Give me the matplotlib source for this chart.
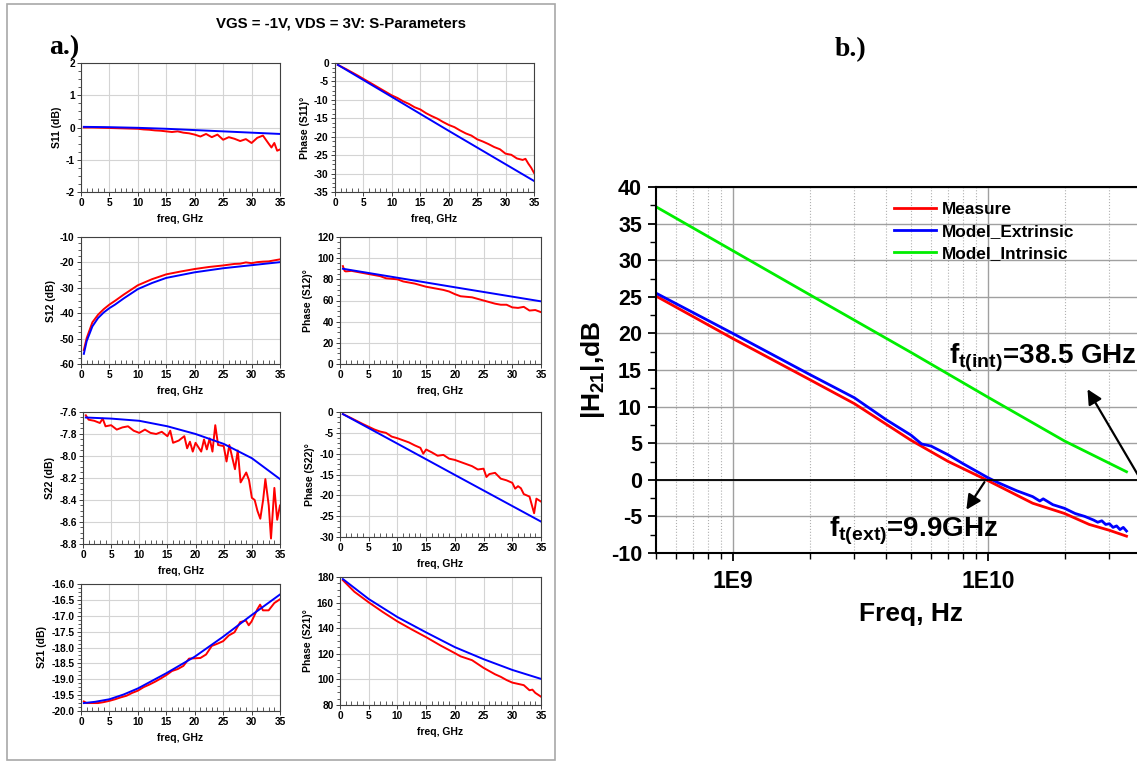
import numpy as np
import matplotlib.pyplot as plt
from matplotlib.patches import Rectangle
from matplotlib.ticker import FormatStrFormatter

plt.rcParams['font.family'] = ['Liberation Sans', 'DejaVu Sans']
plt.rcParams['font.weight'] = 'bold'
plt.rcParams['axes.labelweight'] = 'bold'
plt.rcParams['axes.unicode_minus'] = False
plt.rcParams['mathtext.fontset'] = 'custom'
plt.rcParams['mathtext.rm'] = 'Liberation Sans:bold'
plt.rcParams['mathtext.it'] = 'Liberation Sans:bold'
plt.rcParams['mathtext.bf'] = 'Liberation Sans:bold'

# ---- a.) S-parameters, freq in GHz ----
mod_f = [0.5, 5, 10, 15, 20, 25, 30, 35]

s11_f = [0.5, 2, 4, 6, 8, 10, 11, 12, 13, 14, 15, 16, 17, 18, 19, 20, 21, 22, 23, 24,
         25, 26, 27, 28, 29, 30, 31, 32, 33, 33.5, 34, 34.5, 35]
s11_meas = [0.0, 0.0, -0.01, -0.02, -0.03, -0.04, -0.06, -0.07, -0.09, -0.1, -0.12, -0.14,
            -0.12, -0.16, -0.18, -0.22, -0.28, -0.2, -0.3, -0.22, -0.38, -0.3, -0.35, -0.42,
            -0.36, -0.48, -0.32, -0.25, -0.5, -0.62, -0.48, -0.72, -0.68]
s11_model = [0.02, 0.01, -0.01, -0.04, -0.08, -0.12, -0.16, -0.2]

p11_f = [0.5, 2, 4, 6, 8, 9, 10, 11, 12, 13, 14, 15, 16, 17, 18, 19, 20, 21, 22, 23, 24,
         25, 26, 27, 28, 29, 30, 31, 32, 33, 33.5, 34, 34.5, 35]
p11_meas = [-0.5, -1.7, -3.4, -5.2, -7.0, -7.9, -8.8, -9.5, -10.4, -11.1, -12.0, -12.6, -13.6,
            -14.4, -15.1, -16.0, -16.8, -17.4, -18.3, -19.1, -19.7, -20.7, -21.3, -22.0, -22.8,
            -23.4, -24.6, -24.9, -25.9, -26.3, -26.0, -27.3, -28.4, -29.8]
p11_model_f = [0.5, 10, 20, 35]
p11_model = [-0.5, -9.2, -18.4, -32.0]

s12_f = [0.5, 1, 2, 3, 4, 5, 6, 7.5, 10, 12.5, 15, 17.5, 20, 22.5, 25, 27, 28, 29, 30, 31,
         32, 33, 34, 35]
s12_meas = [-54.5, -49.8, -43.6, -40.6, -38.4, -36.6, -35.1, -32.7, -29.0, -26.6, -24.7, -23.6,
            -22.6, -21.8, -21.2, -20.6, -20.5, -20.0, -20.3, -19.9, -19.7, -19.6, -19.2, -18.8]
s12_model_f = [0.5, 1, 2, 3, 4, 5, 6, 7.5, 10, 12.5, 15, 20, 25, 30, 35]
s12_model = [-56.0, -51.0, -45.2, -41.9, -39.7, -38.0, -36.6, -34.2, -30.5, -28.1, -26.1,
             -23.9, -22.3, -21.1, -19.9]

p12_f = [0.5, 0.8, 1, 2, 3, 4, 5, 6, 7, 8, 9, 10, 11, 12, 13, 14, 15, 16, 17, 18, 19, 20,
         21, 22, 23, 24, 25, 26, 27, 28, 29, 30, 31, 32, 33, 34, 35]
p12_meas = [92.5, 88, 87.5, 88, 87, 86, 85, 84, 83, 81, 80.5, 80, 78, 77, 76, 74.5, 73, 72,
            71, 70, 68.5, 66, 64, 63.5, 63, 61.5, 60, 58.5, 57, 56, 56, 53.5, 53, 54, 50.5,
            51, 49]
p12_model_f = [0.5, 10, 20, 35]
p12_model = [90.0, 81.5, 72.5, 59.2]

s22_f = [0.5, 1, 2, 3, 3.5, 4, 5, 6, 7, 8, 9, 10, 11, 12, 13, 14, 15, 15.5, 16, 17, 18,
         18.5, 19, 19.5, 20, 21, 21.5, 22, 22.5, 23, 23.5, 24, 25, 25.5, 26, 27, 27.5, 28,
         29, 29.5, 30, 30.5, 31, 31.5, 32, 32.4, 33, 33.4, 34, 34.5, 35]
s22_meas = [-7.63, -7.67, -7.68, -7.70, -7.66, -7.73, -7.72, -7.76, -7.74, -7.73, -7.77,
            -7.79, -7.76, -7.79, -7.80, -7.78, -7.82, -7.77, -7.88, -7.86, -7.82, -7.93,
            -7.87, -7.96, -7.88, -7.96, -7.85, -7.94, -7.84, -7.96, -7.72, -7.90, -7.91,
            -8.05, -7.90, -8.12, -7.95, -8.24, -8.15, -8.22, -8.38, -8.40, -8.50, -8.57,
            -8.40, -8.21, -8.45, -8.75, -8.29, -8.58, -8.45]
s22_model = [-7.65, -7.66, -7.68, -7.73, -7.80, -7.89, -8.02, -8.21]

p22_f = [0.5, 2, 4, 6, 7, 8, 9, 10, 11, 12, 13, 14, 14.5, 15, 16, 17, 18, 19, 20, 21, 22,
         23, 24, 25, 25.5, 26, 27, 28, 29, 30, 30.5, 31, 31.5, 32, 33, 33.8, 34.2, 35]
p22_meas = [-0.5, -1.5, -2.9, -4.2, -4.7, -5.0, -5.9, -6.3, -6.8, -7.3, -8.0, -8.6, -10.0,
            -9.0, -9.7, -10.5, -10.3, -11.2, -11.5, -12.0, -12.5, -13.0, -13.8, -13.6, -15.6,
            -14.9, -14.6, -16.0, -16.4, -17.0, -18.4, -17.8, -18.3, -19.7, -20.3, -24.3,
            -20.8, -21.5]
p22_model_f = [0.5, 10, 20, 35]
p22_model = [-0.5, -7.6, -15.1, -26.3]

s21_f = [0.5, 1, 2, 3, 4, 5, 6, 7, 8, 9, 10, 11, 12, 13, 14, 15, 16, 17, 18, 19, 20, 21,
         22, 23, 24, 25, 26, 27, 28, 29, 29.5, 30, 31, 31.5, 32, 33, 34, 35]
s21_meas = [-19.70, -19.75, -19.75, -19.75, -19.72, -19.68, -19.63, -19.57, -19.52, -19.43,
            -19.36, -19.25, -19.17, -19.08, -18.98, -18.87, -18.74, -18.68, -18.58, -18.35,
            -18.34, -18.33, -18.22, -17.95, -17.88, -17.80, -17.62, -17.52, -17.20, -17.15,
            -17.30, -17.18, -16.80, -16.65, -16.83, -16.83, -16.60, -16.48]
s21_model_f = [0.5, 2.5, 5, 7.5, 10, 15, 20, 25, 30, 35]
s21_model = [-19.75, -19.71, -19.63, -19.48, -19.29, -18.81, -18.29, -17.66, -16.98, -16.33]

p21_f = [0.5, 2.5, 5, 7.5, 10, 12.5, 15, 17.5, 20, 21, 22, 23, 25, 27, 28, 29, 30, 31, 32,
         33, 33.5, 34, 35]
p21_meas = [177.5, 168.5, 160.2, 152.5, 145.3, 139.0, 133.0, 126.5, 120.5, 118.0, 116.5,
            115.0, 109.0, 104.0, 102.0, 99.5, 97.5, 96.5, 95.5, 91.5, 92.0, 89.5, 86.5]
p21_model = [178.4, 162.8, 148.7, 136.7, 125.2, 115.8, 107.4, 100.4]

# ---- b.) |H21| vs frequency (Hz) ----
h21_f = [5e8, 1e9, 2e9, 3e9, 5e9, 7e9, 1e10, 1.5e10, 2e10, 2.5e10, 3e10, 3.5e10]
h21_meas = [25.1, 19.3, 13.7, 10.4, 5.4, 2.5, -0.1, -3.2, -4.6, -6.1, -6.9, -7.7]
h21_ext_f = [5e8, 1e9, 2e9, 3e9, 4e9, 5e9, 5.5e9, 6e9, 7e9, 8e9, 9e9, 1e10, 1.1e10, 1.3e10,
             1.5e10, 1.6e10, 1.65e10, 1.8e10, 2e10, 2.2e10, 2.4e10, 2.6e10, 2.7e10, 2.8e10,
             2.9e10, 3e10, 3.1e10, 3.2e10, 3.3e10, 3.4e10, 3.5e10]
h21_ext = [25.5, 20.0, 14.4, 11.2, 8.2, 6.1, 4.9, 4.6, 3.4, 2.2, 1.2, 0.3, -0.4, -1.5, -2.3,
           -2.9, -2.6, -3.4, -3.9, -4.6, -5.0, -5.5, -5.8, -5.6, -6.1, -6.0, -6.5, -6.3, -6.8,
           -6.5, -7.0]
h21_int_f = [5e8, 1e9, 2e9, 5e9, 1e10, 2e10, 3.5e10]
h21_int = [37.3, 31.3, 25.3, 17.4, 11.3, 5.3, 1.1]

W, H = 1137, 763
fig = plt.figure(figsize=(W / 100, H / 100), dpi=100)


def px_axes(x0, x1, y0, y1):
    return fig.add_axes([x0 / W, 1 - y1 / H, (x1 - x0) / W, (y1 - y0) / H])


def sp_panel(box, fm, ym, fd, yd, ylim, ystep, ylabel, fmt=None):
    ax = px_axes(*box)
    ax.plot(fm, ym, color='#ff0000', lw=1.4)
    ax.plot(fd, yd, color='#0000ff', lw=1.4)
    ax.set_xlim(0, 35)
    ax.set_ylim(ylim)
    ax.set_xticks(np.arange(0, 36, 5))
    ax.set_xticks(np.arange(0, 36, 1), minor=True)
    ax.set_yticks(np.arange(ylim[0], ylim[1] + ystep / 2, ystep))
    ax.set_yticks(np.arange(ylim[0], ylim[1] + ystep / 8, ystep / 4), minor=True)
    if fmt:
        ax.yaxis.set_major_formatter(FormatStrFormatter(fmt))
    ax.grid(True, which='major', color='#d4d4d4', lw=0.8)
    ax.tick_params(which='major', direction='out', length=3, width=0.7, labelsize=7.3,
                   pad=1.5, color='#404040')
    ax.tick_params(axis='x', which='minor', direction='in', length=3, width=0.6,
                   color='#404040')
    ax.tick_params(axis='y', which='minor', direction='out', length=2, width=0.6,
                   color='#404040')
    for lbl in ax.get_xticklabels() + ax.get_yticklabels():
        lbl.set_fontweight('bold')
    for sp in ax.spines.values():
        sp.set_color('#404040')
        sp.set_linewidth(0.8)
    ax.set_xlabel('freq, GHz', fontsize=7.5, labelpad=4)
    ax.set_ylabel(ylabel, fontsize=7.5, labelpad=3)
    return ax


sp_panel((81, 280, 63, 192), s11_f, s11_meas, mod_f, s11_model, (-2, 2), 1, 'S11 (dB)')
sp_panel((335, 534, 63, 192), p11_f, p11_meas, p11_model_f, p11_model, (-35, 0), 5,
         'Phase (S11)°')
sp_panel((81, 280, 237, 364), s12_f, s12_meas, s12_model_f, s12_model, (-60, -10), 10,
         'S12 (dB)')
sp_panel((340, 541, 237, 364), p12_f, p12_meas, p12_model_f, p12_model, (0, 120), 20,
         'Phase (S12)°')
sp_panel((83, 280, 412, 544), s22_f, s22_meas, mod_f, s22_model, (-8.8, -7.6), 0.2,
         'S22 (dB)', '%.1f')
sp_panel((340, 541, 412, 537), p22_f, p22_meas, p22_model_f, p22_model, (-30, 0), 5,
         'Phase (S22)°')
sp_panel((81, 280, 584, 711), s21_f, s21_meas, s21_model_f, s21_model, (-20, -16), 0.5,
         'S21 (dB)', '%.1f')
sp_panel((340, 541, 577, 705), p21_f, p21_meas, mod_f, p21_model, (80, 180), 20,
         'Phase (S21)°')

fig.patches.append(Rectangle((7 / W, 1 - 760 / H), 548 / W, 756 / H, transform=fig.transFigure,
                             fill=False, edgecolor='#a8a8a8', lw=1.2))
fig.text(341 / W, 1 - 24 / H, 'VGS = -1V, VDS = 3V: S-Parameters', ha='center', va='center',
         fontsize=10.8, weight='bold')
fig.text(49 / W, 1 - 48 / H, 'a.)', family='Liberation Serif', weight='bold', fontsize=20,
         va='center')
fig.text(835 / W, 1 - 50 / H, 'b.)', family='Liberation Serif', weight='bold', fontsize=20,
         va='center')

# ---- b.) panel ----
ax = px_axes(656, 1166, 187, 553)
ax.set_xscale('log')
ax.plot(h21_f, h21_meas, color='#ff0000', lw=2, label='Measure')
ax.plot(h21_ext_f, h21_ext, color='#0000ff', lw=2, label='Model_Extrinsic')
ax.plot(h21_int_f, h21_int, color='#00ee00', lw=2, label='Model_Intrinsic')
ax.set_ylim(-10, 40)
ax.set_yticks(np.arange(-10, 41, 5))
ax.set_yticks(np.arange(-10, 40.1, 2.5), minor=True)
ax.set_xticks([1e9, 1e10], ['1E9', '1E10'])
ax.set_xticks([m * d for d in (1e8, 1e9, 1e10) for m in range(2, 10)], minor=True)
ax.tick_params(axis='x', which='minor', labelbottom=False)
ax.set_xlim(5e8, 5e10)
ax.grid(True, which='major', color='#a0a0a0', lw=1)
ax.grid(True, which='minor', axis='x', color='#b0b0b0', lw=0.8, ls=':')
ax.axhline(0, color='black', lw=1.3)
ax.tick_params(which='major', direction='out', length=6, width=1.3)
ax.tick_params(which='minor', direction='out', length=4, width=1)
ax.tick_params(axis='y', labelsize=15.5, pad=4)
ax.tick_params(axis='x', labelsize=16.5, pad=6)
for lbl in ax.get_xticklabels() + ax.get_yticklabels():
    lbl.set_fontweight('bold')
for sp in ax.spines.values():
    sp.set_linewidth(1.5)
ax.set_xlabel('Freq, Hz', fontsize=19, labelpad=7)
ax.set_ylabel(r'|H$_{21}$|,dB', fontsize=19, labelpad=3)
ax.legend(loc='upper left', bbox_to_anchor=(0.467, 0.96), frameon=False, fontsize=12.4,
          borderpad=0, handlelength=2.45, handletextpad=0.3, labelspacing=0.42,
          borderaxespad=0)

ax.annotate('', xy=(2.43e10, 12.7), xytext=(4.14e10, -1.0),
            arrowprops=dict(arrowstyle='-|>', color='black', lw=1.6, mutation_scale=22))
ax.annotate('', xy=(8.13e9, -4.4), xytext=(9.84e9, 0),
            arrowprops=dict(arrowstyle='-|>', color='black', lw=1.6, mutation_scale=22))
ax.text(7.06e9, 15.9, r'f$_{\mathregular{t(int)}}$=38.5 GHz', fontsize=20, weight='bold',
        va='baseline', ha='left')
ax.text(2.38e9, -7.7, r'f$_{\mathregular{t(ext)}}$=9.9GHz', fontsize=20, weight='bold',
        va='baseline', ha='left')

fig.savefig('out.png', dpi=100)
